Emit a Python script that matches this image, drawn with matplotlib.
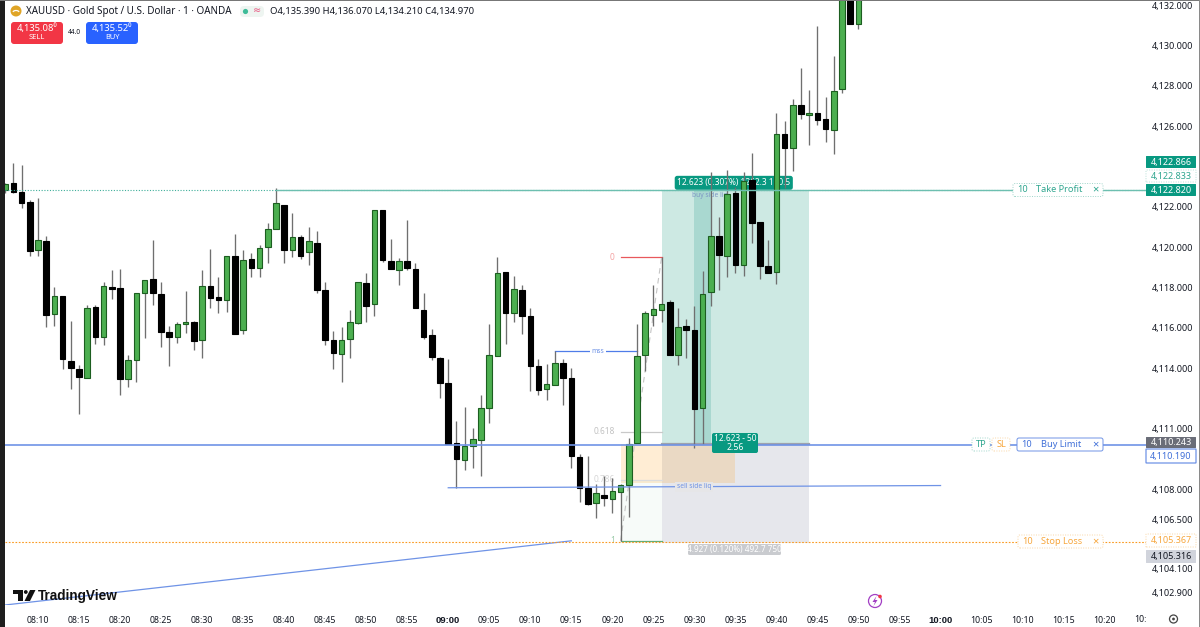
import matplotlib
matplotlib.use('Agg')
import matplotlib.pyplot as plt
from matplotlib.patches import Rectangle, FancyBboxPatch, Circle, Polygon, Arc
from matplotlib.transforms import IdentityTransform

plt.rcParams['font.family'] = ['Noto Sans', 'DejaVu Sans']

# 1 minute XAUUSD candles, first one sits 4 minutes before 08:10
opens = [4122.82, 4123.17, 4122.72, 4122.22, 4119.84, 4120.29, 4116.67, 4117.56, 4114.38, 4113.94,
         4113.54, 4117.06, 4115.57, 4118.01, 4117.96, 4113.49, 4114.43, 4117.71, 4118.40, 4117.66,
         4115.82, 4115.57, 4116.17, 4116.27, 4115.38, 4118.06, 4117.51, 4117.36, 4119.54, 4115.92,
         4119.40, 4118.95, 4119.99, 4120.88, 4122.08, 4119.84, 4120.49, 4119.74, 4120.19, 4117.86,
         4115.38, 4114.73, 4115.43, 4116.22, 4118.25, 4117.21, 4121.83, 4119.30, 4118.85, 4119.30,
         4118.90, 4116.91, 4115.67, 4114.53, 4113.29, 4110.31, 4109.47, 4110.16, 4110.46, 4112.05,
         4114.63, 4118.75, 4116.72, 4117.86, 4116.57, 4114.13, 4112.99, 4113.19, 4114.28, 4113.54,
         4109.62, 4108.08, 4107.34, 4107.73, 4107.53, 4107.88, 4108.23, 4110.31, 4114.68, 4116.62,
         4116.91, 4117.26, 4114.68, 4116.12, 4115.92, 4112.05, 4117.76, 4120.54, 4119.54, 4122.67,
         4119.10, 4123.32, 4121.23, 4119.05, 4118.75, 4125.60, 4124.90, 4127.04, 4126.54, 4126.64,
         4126.34, 4125.80, 4127.83, 4132.60, 4131.06]
highs = [4123.17, 4124.16, 4124.06, 4122.32, 4122.42, 4120.54, 4118.01, 4117.56, 4116.32, 4114.18,
         4117.16, 4117.16, 4118.30, 4118.85, 4118.90, 4114.68, 4117.71, 4118.35, 4120.34, 4118.30,
         4116.12, 4116.27, 4117.81, 4116.32, 4118.85, 4119.89, 4118.50, 4119.54, 4120.64, 4119.84,
         4119.69, 4120.09, 4121.18, 4122.92, 4122.08, 4121.68, 4120.59, 4120.98, 4120.79, 4118.30,
         4115.87, 4116.07, 4116.91, 4118.30, 4118.70, 4121.83, 4121.83, 4120.39, 4119.45, 4121.33,
         4119.20, 4117.71, 4115.97, 4114.58, 4114.48, 4111.41, 4112.10, 4111.06, 4112.70, 4116.17,
         4119.49, 4118.75, 4118.55, 4118.15, 4117.01, 4114.48, 4114.23, 4114.88, 4114.48, 4114.03,
         4109.77, 4109.67, 4108.28, 4108.68, 4108.58, 4108.28, 4110.56, 4116.17, 4116.86, 4118.15,
         4119.49, 4117.36, 4117.01, 4116.42, 4117.11, 4118.80, 4123.71, 4121.48, 4123.81, 4122.97,
         4123.71, 4124.66, 4121.23, 4120.34, 4126.64, 4126.24, 4127.34, 4128.88, 4127.78, 4130.96,
         4127.44, 4129.47, 4133.00, 4133.00, 4133.00]
lows = [4122.67, 4122.67, 4121.93, 4119.54, 4119.54, 4116.07, 4116.12, 4113.94, 4112.99, 4111.75,
        4113.54, 4115.18, 4115.13, 4117.41, 4112.70, 4113.09, 4113.34, 4115.52, 4117.16, 4115.03,
        4114.13, 4115.23, 4115.77, 4114.93, 4114.53, 4117.01, 4116.72, 4116.81, 4115.72, 4115.72,
        4118.50, 4118.50, 4119.20, 4120.88, 4119.20, 4119.49, 4119.40, 4119.10, 4117.71, 4115.13,
        4113.94, 4113.34, 4114.53, 4116.17, 4116.27, 4116.57, 4119.25, 4118.90, 4118.15, 4118.85,
        4117.01, 4115.43, 4114.43, 4112.55, 4110.26, 4108.08, 4108.97, 4109.07, 4108.68, 4111.31,
        4114.63, 4115.18, 4116.27, 4115.72, 4112.89, 4112.70, 4112.45, 4113.19, 4112.20, 4109.07,
        4107.39, 4107.24, 4106.59, 4107.19, 4106.84, 4105.45, 4106.64, 4110.31, 4113.89, 4116.12,
        4116.27, 4114.68, 4114.18, 4114.53, 4110.07, 4110.26, 4117.11, 4117.86, 4118.50, 4118.70,
        4118.55, 4120.19, 4118.40, 4118.70, 4118.20, 4122.92, 4123.76, 4126.34, 4125.05, 4126.05,
        4125.20, 4124.61, 4127.63, 4131.06, 4130.81]
closes = [4123.12, 4122.72, 4122.18, 4119.79, 4120.34, 4116.62, 4117.56, 4114.48, 4113.99, 4113.59,
          4117.01, 4115.57, 4118.06, 4117.91, 4113.49, 4114.43, 4117.71, 4118.35, 4117.71, 4115.82,
          4115.57, 4116.17, 4116.27, 4115.33, 4118.06, 4117.46, 4117.36, 4119.54, 4115.72, 4119.35,
          4118.95, 4119.94, 4120.88, 4122.18, 4119.84, 4120.49, 4119.54, 4120.29, 4117.86, 4115.38,
          4114.78, 4115.38, 4116.27, 4118.30, 4117.11, 4121.83, 4119.35, 4118.90, 4119.30, 4118.95,
          4117.01, 4115.57, 4114.58, 4113.29, 4110.26, 4109.52, 4110.16, 4110.51, 4112.05, 4114.68,
          4118.70, 4116.72, 4117.91, 4116.57, 4114.13, 4112.94, 4113.24, 4114.28, 4113.54, 4109.67,
          4108.08, 4107.29, 4107.83, 4107.58, 4107.93, 4108.23, 4110.26, 4114.63, 4116.72, 4116.96,
          4117.21, 4114.68, 4116.07, 4115.92, 4112.00, 4117.66, 4120.54, 4119.59, 4122.62, 4119.10,
          4123.27, 4121.18, 4119.05, 4118.70, 4125.60, 4124.90, 4127.04, 4126.59, 4126.64, 4126.29,
          4125.85, 4127.73, 4132.60, 4131.06, 4132.60]
first_minute = -4

price_ticks = [4132, 4130, 4128, 4126, 4122, 4120, 4118, 4116, 4114, 4111, 4108, 4106.5, 4104.1, 4102.9]
time_ticks = list(range(0, 135, 5))
time_labels = ['08:10', '08:15', '08:20', '08:25', '08:30', '08:35', '08:40', '08:45', '08:50', '08:55',
               '09:00', '09:05', '09:10', '09:15', '09:20', '09:25', '09:30', '09:35', '09:40', '09:45',
               '09:50', '09:55', '10:00', '10:05', '10:10', '10:15', '10:20']

tp_price = 4122.82
entry_price = 4110.243
limit_price = 4110.19
sl_price = 4105.367
fib_levels = {'0': 4119.49, '0.618': 4110.86, '0.786': 4108.48, '1': 4105.45}

TEAL = '#089981'
BLUE = '#6f93e6'
ORANGE = '#f7a63c'
INK = '#131722'

fig = plt.figure(figsize=(12, 6.27), dpi=100, facecolor='white')
ax = fig.add_axes([5 / 1200, 22 / 627, 1141 / 1200, 604 / 627])
ax.set_xlim(-4.02, 135.04)
ax.set_ylim(4102.27, 4132.2)
for side in ax.spines.values():
    side.set_visible(False)


def top(y):
    return 627 - y


def chrome_text(x, y, s, size=6.6, color=INK, ha='left', weight='normal', **kw):
    fig.text(x, top(y), s, transform=IdentityTransform(), fontsize=size, color=color,
             ha=ha, va='center', fontweight=weight, zorder=20, **kw)


def chrome_box(x0, y0, x1, y1, face, edge='none', ls='-', lw=0.7, rounding=2):
    box = FancyBboxPatch((x0 + rounding, top(y1) + rounding), x1 - x0 - 2 * rounding, y1 - y0 - 2 * rounding,
                         boxstyle=f'round,pad={rounding},rounding_size={rounding}',
                         transform=IdentityTransform(), facecolor=face, edgecolor=edge,
                         linestyle=ls, linewidth=lw, zorder=15)
    fig.add_artist(box)


# position tool and zones behind the candles
ax.add_patch(Rectangle((76, entry_price), 18, tp_price - entry_price, color='#cde9e3', lw=0, zorder=1))
ax.add_patch(Rectangle((76, sl_price), 18, entry_price - sl_price, color='#e6e7ec', lw=0, zorder=1))
ax.add_patch(Rectangle((80, entry_price), 2, tp_price - entry_price, color='#a9d8d0', lw=0, zorder=1.1))
ax.add_patch(Rectangle((71, sl_price), 5, fib_levels['0.786'] - sl_price, color='#f7fbf9', lw=0, zorder=1))
ax.add_patch(Rectangle((71, 4108.3), 14, entry_price - 4108.3, color='#ff9800', alpha=0.17, lw=0, zorder=1.2))
ax.plot([76, 94], [entry_price, entry_price], color='#9ea2ad', lw=1.6, zorder=1.5)

# fib retracement levels
ax.plot([71, 76], [fib_levels['0'], fib_levels['0']], color='#e8585c', lw=0.9, zorder=2)
ax.plot([71, 76], [fib_levels['0.618'], fib_levels['0.618']], color='#c9c9c9', lw=0.9, zorder=2)
ax.plot([71, 76], [fib_levels['0.786'], fib_levels['0.786']], color='#dcdcdc', lw=0.9, zorder=2)
ax.plot([71, 76], [fib_levels['1'], fib_levels['1']], color='#62ad78', lw=0.9, zorder=2)
ax.plot([71, 76], [fib_levels['1'], fib_levels['0']], color='#c4c4c4', lw=0.8, ls=(0, (5, 4)), zorder=2)
fib_colors = {'0': '#f4a3a3', '0.618': '#c2c2c2', '0.786': '#d6d6d6', '1': '#9ccbaa'}
for name, level in fib_levels.items():
    ax.text(70.3, level, name, color=fib_colors[name], fontsize=6.0, ha='right', va='center', zorder=2)

ax.text(81.9, tp_price - 0.07, 'buy side liq', color='#7d97c4', fontsize=4.8, ha='center', va='top', zorder=2)

# trend lines
ax.plot([-4.02, 65], [4102.27, 4105.45], color=BLUE, lw=0.9, zorder=2)
ax.plot([63, 73], [4114.85, 4114.85], color='#4f7ce8', lw=0.9, zorder=2)
ax.text(68.2, 4114.85, 'mss', color=BLUE, fontsize=4.8, ha='center', va='center', zorder=2.1,
        bbox=dict(facecolor='white', edgecolor='none', pad=1.2))

# teal measure labels sit under the candles
ax.text(84.8, tp_price + 0.37, '12.623 (0.307%) 1262.3 160.5', color='white', fontsize=6.0,
        ha='center', va='center', zorder=2.5,
        bbox=dict(boxstyle='round,pad=0.3,rounding_size=0.3', facecolor=TEAL, edgecolor='none'))

# candles
xs = [first_minute + i for i in range(len(opens))]
body_bottom = [min(o, c) for o, c in zip(opens, closes)]
body_height = [max(abs(c - o), 0.03) for o, c in zip(opens, closes)]
face = ['#4caf50' if c >= o else '#000000' for o, c in zip(opens, closes)]
edge = ['#1c5e20' if c >= o else '#000000' for o, c in zip(opens, closes)]
ax.vlines(xs, lows, highs, color='#6f6f6f', lw=0.95, zorder=3)
ax.bar(xs, body_height, bottom=body_bottom, width=0.68, color=face, edgecolor=edge, linewidth=0.8, zorder=4)

# order lines drawn over the candles
ax.plot([-4.02, 135.04], [tp_price, tp_price], color='#3fae9a', lw=0.8, ls=(0, (1, 1.5)), zorder=5)
ax.plot([29, 135.04], [tp_price, tp_price], color='#6dbfb0', lw=1.0, zorder=5)
ax.plot([-4.02, 135.04], [limit_price, limit_price], color=BLUE, lw=1.2, zorder=5)
ax.plot([-4.02, 135.04], [sl_price + 0.04, sl_price + 0.04], color='#fb9a1e', lw=0.8, ls=(0, (1.5, 1.5)), zorder=5)
ax.plot([50, 110], [4108.08, 4108.19], color=BLUE, lw=0.9, zorder=5)
ax.text(80, 4108.13, 'sell side liq', color=BLUE, fontsize=4.8, ha='center', va='center', zorder=5.1,
        bbox=dict(facecolor='#e6e6e8', edgecolor='none', pad=1.2))

# axis ticks
ax.yaxis.tick_right()
ax.set_yticks(price_ticks)
ax.set_yticklabels([f'{p:,.3f}' for p in price_ticks], fontsize=6.5, color=INK)
ax.set_xticks(time_ticks)
ax.set_xticklabels(time_labels, fontsize=6.3, color=INK)
ax.tick_params(axis='y', length=0, pad=4.3)
ax.tick_params(axis='x', length=0, pad=8)
for label in ax.get_xticklabels():
    if label.get_text().endswith(':00'):
        label.set_fontfamily('Liberation Sans')
        label.set_fontweight('bold')
        label.set_fontsize(6.8)
chrome_text(1147, 619, '10:', size=6.3, ha='right')

# order tags on the right of the pane
chrome_box(972, 438, 990, 451, 'white', '#9fd5ca', (0, (1, 1.5)))
chrome_text(981, 444.5, 'TP', color='#2fa68f', ha='center')
chrome_box(992, 438, 1010, 451, 'white', '#f9d6a5', (0, (1, 1.5)))
chrome_text(1001, 444.5, 'SL', color=ORANGE, ha='center')
for x0, y, tag, color, edge_color, ls, text_x in [
        (1013, 190, 'Take Profit', '#2fa68f', '#9fd5ca', (0, (1, 1.5)), 1059),
        (1017, 444.5, 'Buy Limit', '#3f6fd8', BLUE, '-', 1061),
        (1018, 541.5, 'Stop Loss', ORANGE, '#f9d6a5', (0, (1, 1.5)), 1062)]:
    chrome_box(x0, y - 6.5, 1103, y + 6.5, 'white', edge_color, ls)
    chrome_text(x0 + 9, y, '10', color=color, ha='center')
    chrome_text(text_x, y, tag, color=color, ha='center')
    chrome_text(1095, y, '×', color=color, ha='center', size=8)

# price tags on the scale
chrome_box(1146, 156, 1196, 168, TEAL, rounding=0.5)
chrome_text(1171, 162, '4,122.866', size=6.5, color='white', ha='center')
chrome_box(1146, 170, 1196, 182, 'white', '#b7e0d7', (0, (1, 1.5)), rounding=0.5)
chrome_text(1171, 176, '4,122.833', size=6.5, color='#2fa68f', ha='center')
chrome_box(1146, 184, 1196, 196, TEAL, rounding=0.5)
chrome_text(1171, 190, '4,122.820', size=6.5, color='white', ha='center')
chrome_box(1146, 437, 1196, 448, '#6a6d78', rounding=0.5)
chrome_text(1171, 442.5, '4,110.243', size=6.5, color='white', ha='center')
chrome_box(1146, 449, 1196, 463, 'white', BLUE, lw=0.9, rounding=0.5)
chrome_text(1171, 456, '4,110.190', size=6.5, color='#3f6fd8', ha='center')
chrome_box(1146, 534, 1196, 547, 'white', '#f9d6a5', (0, (1, 1.5)), rounding=0.5)
chrome_text(1171, 540.5, '4,105.367', size=6.5, color=ORANGE, ha='center')
chrome_box(1146, 550, 1196, 563, '#d1d4dc', rounding=0.5)
chrome_text(1171, 556.5, '4,105.316', size=6.5, ha='center')

# position tool stat labels
chrome_box(712, 433, 758, 453, TEAL, rounding=2)
chrome_text(735, 438.5, '12.623 - 50', size=6.0, color='white', ha='center')
chrome_text(735, 447.5, '2.56', size=6.3, color='white', ha='center')
chrome_box(688, 544, 781, 555, '#c9cbcf', rounding=1.5)
chrome_text(734.5, 549.5, '4.927 (0.120%) 492.7 750', size=5.9, color='white', ha='center')

# legend row
fig.add_artist(Circle((16, top(11)), 5.5, transform=IdentityTransform(), facecolor='#e0a526', edgecolor='none', zorder=15))
fig.add_artist(Arc((16, top(13)), 7, 5, theta1=20, theta2=160, transform=IdentityTransform(), edgecolor='white', linewidth=0.9, zorder=16))
chrome_text(26, 11.5, 'XAUUSD · Gold Spot / U.S. Dollar · 1 · OANDA', size=7.1)
chrome_box(240, 6, 264, 17, '#eef5f1', rounding=4)
fig.add_artist(Circle((245.5, top(11.5)), 2.6, transform=IdentityTransform(), facecolor='#3dbb98', edgecolor='none', zorder=16))
chrome_text(257, 11, '≈', size=7, color='#e8517e', ha='center')
chrome_text(270, 11.5, 'O4,135.390 H4,136.070 L4,134.210 C4,134.970', size=6.8)

chrome_box(11, 22, 63, 44, '#f23645', rounding=3)
chrome_text(37, 28, '4,135.08⁰', size=6.8, color='white', ha='center')
chrome_text(37, 37.5, 'SELL', size=5.4, color='white', ha='center')
chrome_text(74.5, 32.5, '44.0', size=4.8, ha='center')
chrome_box(86, 22, 138, 44, '#2962ff', rounding=3)
chrome_text(112, 28, '4,135.52⁰', size=6.8, color='white', ha='center')
chrome_text(112, 37.5, 'BUY', size=5.4, color='white', ha='center')

# TradingView mark
fig.add_artist(Polygon([(13, top(590)), (22.5, top(590)), (22.5, top(601)), (18, top(601)), (18, top(594)), (13, top(594))],
                       closed=True, transform=IdentityTransform(), facecolor='#111111', edgecolor='none', zorder=15))
fig.add_artist(Circle((25.8, top(592)), 1.9, transform=IdentityTransform(), facecolor='#111111', edgecolor='none', zorder=15))
fig.add_artist(Polygon([(30, top(590)), (35.5, top(590)), (30, top(601)), (24.5, top(601))],
                       closed=True, transform=IdentityTransform(), facecolor='#111111', edgecolor='none', zorder=15))
chrome_text(38, 596, 'TradingView', size=9.8, color='#111111', weight='bold', family='Liberation Sans')

# bolt badge and settings gear
fig.add_artist(Circle((875, top(601)), 6.5, transform=IdentityTransform(), facecolor='white', edgecolor='#a23fc4', linewidth=0.9, zorder=15))
fig.add_artist(Polygon([(876.5, top(596)), (872.5, top(602)), (875, top(602)), (873.5, top(606)), (877.5, top(600)), (875, top(600))],
                       closed=True, transform=IdentityTransform(), facecolor='#a23fc4', edgecolor='none', zorder=16))
fig.add_artist(Circle((880, top(596.5)), 1.8, transform=IdentityTransform(), facecolor='#f23645', edgecolor='none', zorder=16))
fig.add_artist(Circle((1173.5, top(619)), 4, transform=IdentityTransform(), facecolor='white', edgecolor='#444444', linewidth=0.9, zorder=15))
fig.add_artist(Circle((1173.5, top(619)), 1.4, transform=IdentityTransform(), facecolor='#444444', edgecolor='none', zorder=16))

# window frame
fig.add_artist(Rectangle((0, 0), 5, 627, transform=IdentityTransform(), facecolor='#1e1e1e', edgecolor='none', zorder=15))
fig.add_artist(Rectangle((0, 626), 1200, 1, transform=IdentityTransform(), facecolor='#777777', edgecolor='none', zorder=15))
fig.add_artist(Rectangle((1198.5, 0), 1.5, 627, transform=IdentityTransform(), facecolor='#8a8a8a', edgecolor='none', zorder=15))

fig.savefig('out.png', dpi=100, facecolor='white')
